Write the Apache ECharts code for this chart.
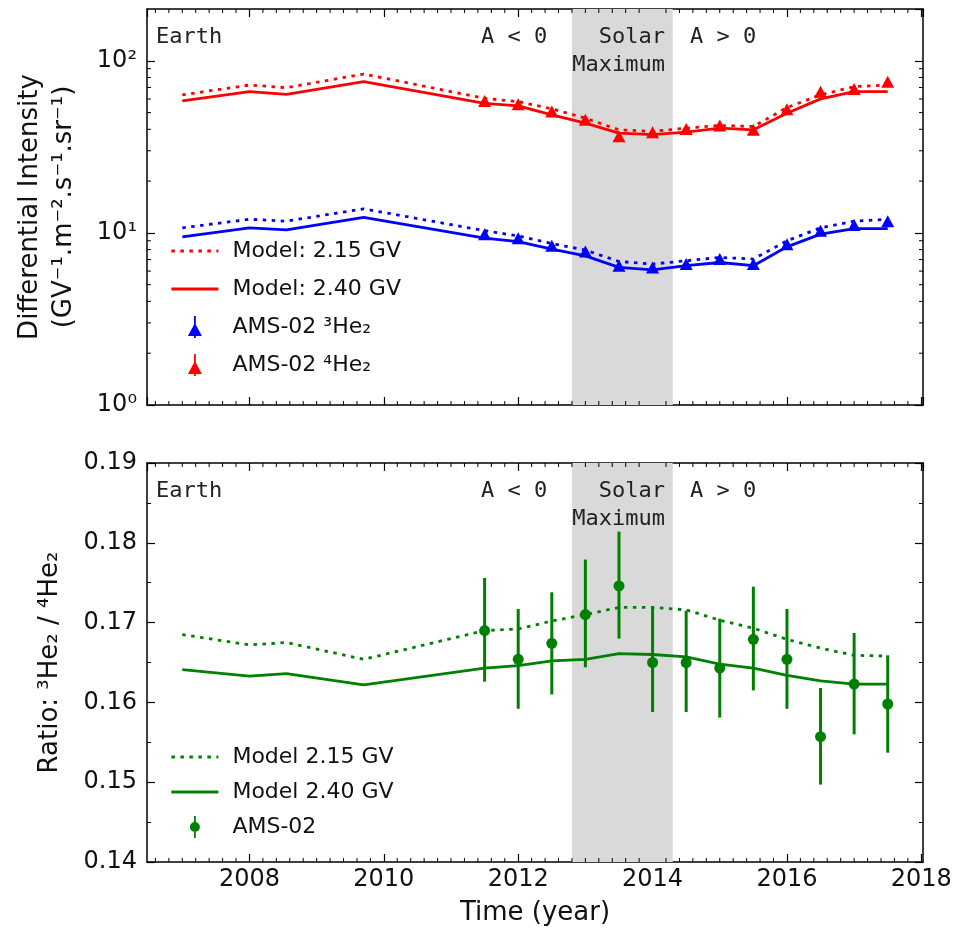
<!DOCTYPE html>
<html>
<head>
<meta charset="utf-8">
<script src="https://cdn.jsdelivr.net/npm/echarts@6/dist/echarts.min.js"></script>
<style>
html, body { margin: 0; padding: 0; background: #fff; }
#chart { width: 957px; height: 934px; }
</style>
</head>
<body>
<div id="chart"></div>
<script>
// epochs of the model curves and of the AMS-02 points
var modelYears = [2007, 2008, 2008.55, 2009.7, 2011.5, 2012, 2012.5, 2013, 2013.5, 2014, 2014.5, 2015, 2015.5, 2016, 2016.5, 2017, 2017.5];
var dataYears = [2011.5, 2012, 2012.5, 2013, 2013.5, 2014, 2014.5, 2015, 2015.5, 2016, 2016.5, 2017, 2017.5];

// 4He intensity
var he4Model215 = [63.4, 72.3, 69.8, 83.8, 60.5, 57.9, 52.6, 46.4, 39.7, 38.9, 40.6, 42.1, 41.5, 53.5, 63.4, 70.8, 72.3];
var he4Model240 = [58.5, 66.2, 63.9, 75.6, 56.6, 54.7, 48.5, 43.4, 38.0, 37.2, 38.5, 40.6, 39.7, 49.6, 60.1, 66.2, 66.2];
var he4Ams = [58.5, 55.9, 50.7, 45.4, 36.4, 38.5, 40.1, 42.1, 39.7, 52.3, 66.2, 68.6, 75.6];

// 3He intensity
var he3Model215 = [10.7, 12.0, 11.7, 13.8, 10.3, 9.6, 8.67, 7.94, 6.82, 6.59, 6.89, 7.2, 7.05, 8.99, 10.7, 11.7, 12.0];
var he3Model240 = [9.48, 10.7, 10.4, 12.3, 9.32, 8.9, 8.05, 7.36, 6.3, 6.09, 6.45, 6.73, 6.45, 8.3, 9.83, 10.6, 10.6];
var he3Ams = [9.83, 9.32, 8.41, 7.8, 6.45, 6.3, 6.59, 7.05, 6.59, 8.6, 10.3, 11.1, 11.7];

// 3He / 4He ratio
var ratioModel215 = [0.1685, 0.1672, 0.1675, 0.1654, 0.1690, 0.1692, 0.1702, 0.1710, 0.1719, 0.1719, 0.1716, 0.1703, 0.1693, 0.1679, 0.1668, 0.1659, 0.1658];
var ratioModel240 = [0.1641, 0.1633, 0.1636, 0.1622, 0.1643, 0.1646, 0.1652, 0.1654, 0.1661, 0.1660, 0.1657, 0.1648, 0.1643, 0.1634, 0.1627, 0.1623, 0.1623];
var ratioAms = [0.1690, 0.1654, 0.1674, 0.1710, 0.1746, 0.1650, 0.1650, 0.1643, 0.1679, 0.1654, 0.1557, 0.1623, 0.1598];
var ratioAmsLow = [0.1626, 0.1592, 0.1610, 0.1644, 0.1680, 0.1588, 0.1588, 0.1581, 0.1615, 0.1592, 0.1497, 0.1560, 0.1537];
var ratioAmsHigh = [0.1756, 0.1717, 0.1738, 0.1779, 0.1814, 0.1720, 0.1715, 0.1705, 0.1745, 0.1717, 0.1618, 0.1687, 0.1659];

var solarMax = [2012.8, 2014.3];
var logMinorTicks = [2, 3, 4, 5, 6, 7, 8, 9, 20, 30, 40, 50, 60, 70, 80, 90];

var X_MIN = 2006.475, X_MAX = 2018.025;
var RED = '#ff0000', BLUE = '#0000ff', GREEN = '#008000';
var SANS = 'DejaVu Sans', MONO = 'DejaVu Sans Mono';
var DOT = [3.5, 5.5];

// x minor ticks every 0.2 yr (skip the major ones)
var xMinorTicks = [];
for (var i = 0; ; i++) {
	var v = Math.round((2006.6 + 0.2 * i) * 10) / 10;
	if (v > 2018.0) break;
	if (Math.abs(v / 2 - Math.round(v / 2)) > 1e-6) xMinorTicks.push(v);
}

function zip(xs, ys) {
	return xs.map(function (x, i) { return [x, ys[i]]; });
}

function xAxisCfg(gridIndex, pos, labels) {
	return {
		type: 'value', gridIndex: gridIndex, position: pos,
		min: X_MIN, max: X_MAX,
		axisLine: { show: true, onZero: false, lineStyle: { color: '#000', width: 1.5 } },
		axisTick: { show: true, inside: true, length: 8, lineStyle: { color: '#000', width: 1.2 } },
		axisLabel: {
			show: labels, margin: 6, showMinLabel: false, showMaxLabel: false,
			fontFamily: SANS, fontSize: 24, color: '#111',
			formatter: function (v) { return String(v); }
		},
		splitLine: { show: false }
	};
}

function yAxisCommon(cfg, labels) {
	cfg.axisLine = { show: true, onZero: false, lineStyle: { color: '#000', width: 1.5 } };
	cfg.axisTick = { show: true, inside: true, length: 8, lineStyle: { color: '#000', width: 1.2 } };
	cfg.splitLine = { show: false };
	cfg.axisLabel.show = labels;
	cfg.axisLabel.margin = 10;
	cfg.axisLabel.fontFamily = SANS;
	cfg.axisLabel.fontSize = 24;
	cfg.axisLabel.color = '#111';
	return cfg;
}

var supDigits = ['⁰', '¹', '²', '³'];
function logLabel(v) {
	return '10' + supDigits[Math.round(Math.log10(v))];
}

// minor ticks drawn through the axes' own scales
function xMinorSeries(axisIdx, yLo, yHi) {
	return {
		type: 'custom', silent: true, z: 10,
		xAxisIndex: axisIdx, yAxisIndex: axisIdx,
		data: xMinorTicks.map(function (x) { return [x, yLo]; }),
		renderItem: function (params, api) {
			var b = api.coord([api.value(0), yLo]);
			var t = api.coord([api.value(0), yHi]);
			return {
				type: 'group', children: [
					{ type: 'line', shape: { x1: b[0], y1: b[1], x2: b[0], y2: b[1] - 4 }, style: { stroke: '#000', lineWidth: 1 } },
					{ type: 'line', shape: { x1: t[0], y1: t[1], x2: t[0], y2: t[1] + 4 }, style: { stroke: '#000', lineWidth: 1 } }
				]
			};
		}
	};
}

function yLogMinorSeries(axisIdx) {
	return {
		type: 'custom', silent: true, z: 10,
		xAxisIndex: axisIdx, yAxisIndex: axisIdx,
		data: logMinorTicks.map(function (y) { return [X_MIN, y]; }),
		renderItem: function (params, api) {
			var l = api.coord([X_MIN, api.value(1)]);
			var r = api.coord([X_MAX, api.value(1)]);
			return {
				type: 'group', children: [
					{ type: 'line', shape: { x1: l[0], y1: l[1], x2: l[0] + 4, y2: l[1] }, style: { stroke: '#000', lineWidth: 1 } },
					{ type: 'line', shape: { x1: r[0], y1: r[1], x2: r[0] - 4, y2: r[1] }, style: { stroke: '#000', lineWidth: 1 } }
				]
			};
		}
	};
}

function shade(axisIdx, yLo, yHi) {
	return {
		type: 'line', xAxisIndex: axisIdx, yAxisIndex: axisIdx, z: 1, silent: true,
		data: [], symbol: 'none',
		markArea: {
			silent: true,
			itemStyle: { color: '#d9d9d9' },
			data: [[{ xAxis: solarMax[0], yAxis: yLo }, { xAxis: solarMax[1], yAxis: yHi }]]
		}
	};
}

function modelLine(name, axisIdx, ys, color, dotted) {
	return {
		name: name, type: 'line', xAxisIndex: axisIdx, yAxisIndex: axisIdx, z: 3,
		data: zip(modelYears, ys), symbol: 'none', showSymbol: false,
		lineStyle: { color: color, width: 2.8, type: dotted ? DOT : 'solid', cap: 'butt' },
		itemStyle: { color: color }
	};
}

function panelTexts(dy) {
	var font = '22px "' + MONO + '"';
	var t = function (txt, x, y, align) {
		return { type: 'text', x: x, y: y + dy, z: 50, style: { text: txt, font: font, fill: '#222', align: align || 'left', verticalAlign: 'middle' } };
	};
	return [
		t('Earth', 156, 37),
		t('A < 0', 481, 37),
		t('Solar', 665, 37, 'right'),
		t('Maximum', 665, 65, 'right'),
		t('A > 0', 690, 37)
	];
}

var triIcon = 'path://M7,7 L14,20 L0,20 Z M6.1,0 L7.9,0 L7.9,22 L6.1,22 Z';
var dotIcon = 'path://M5.1,0 L6.9,0 L6.9,22 L5.1,22 Z M11,11 A5,5 0 1,1 1,11 A5,5 0 1,1 11,11 Z';
var noMarker = { opacity: 0 };

var legendBase = {
	orient: 'vertical', left: 165, itemWidth: 47, itemHeight: 22,
	selectedMode: false,
	lineStyle: { width: 2.8 },
	textStyle: { fontFamily: SANS, fontSize: 22, color: '#111', lineHeight: 24, padding: [0, 0, 0, 9] }
};

var chart = echarts.init(document.getElementById('chart'));

var option = {
	animation: false,
	backgroundColor: '#fff',
	grid: [
		{ left: 147, top: 9, width: 776, height: 396 },
		{ left: 147, top: 463, width: 776, height: 399 }
	],
	legend: [
		Object.assign({}, legendBase, {
			top: 234, itemGap: 14,
			data: [
				{ name: 'Model: 2.15 GV', itemStyle: noMarker },
				{ name: 'Model: 2.40 GV', itemStyle: noMarker },
				{ name: 'AMS-02 ³He₂', icon: triIcon },
				{ name: 'AMS-02 ⁴He₂', icon: triIcon }
			]
		}),
		Object.assign({}, legendBase, {
			top: 740, itemGap: 11,
			data: [
				{ name: 'Model 2.15 GV', itemStyle: noMarker },
				{ name: 'Model 2.40 GV', itemStyle: noMarker },
				{ name: 'AMS-02', icon: dotIcon, itemStyle: { color: GREEN } }
			]
		})
	],
	xAxis: [
		xAxisCfg(0, 'bottom', false),
		Object.assign(xAxisCfg(1, 'bottom', true), {
			name: 'Time (year)', nameLocation: 'middle', nameGap: 38,
			nameTextStyle: { fontFamily: SANS, fontSize: 26, color: '#111' }
		}),
		xAxisCfg(0, 'top', false),
		xAxisCfg(1, 'top', false)
	],
	yAxis: [
		yAxisCommon({
			type: 'log', logBase: 10, gridIndex: 0, position: 'left', min: 1, max: 200,
			name: 'Differential Intensity\n(GV⁻¹.m⁻².s⁻¹.sr⁻¹)',
			nameLocation: 'middle', nameGap: 66,
			nameTextStyle: { fontFamily: SANS, fontSize: 26, lineHeight: 34, color: '#111' },
			axisLabel: { formatter: logLabel, showMaxLabel: false }
		}, true),
		yAxisCommon({
			type: 'value', gridIndex: 1, position: 'left', min: 0.14, max: 0.19, interval: 0.01,
			minorTick: { show: true, splitNumber: 2, length: 4, lineStyle: { color: '#000', width: 1 } },
			name: 'Ratio: ³He₂ / ⁴He₂',
			nameLocation: 'middle', nameGap: 84,
			nameTextStyle: { fontFamily: SANS, fontSize: 26, color: '#111' },
			axisLabel: { formatter: function (v) { return v.toFixed(2); } }
		}, true),
		yAxisCommon({
			type: 'log', logBase: 10, gridIndex: 0, position: 'right', min: 1, max: 200,
			axisLabel: {}
		}, false),
		yAxisCommon({
			type: 'value', gridIndex: 1, position: 'right', min: 0.14, max: 0.19, interval: 0.01,
			minorTick: { show: true, splitNumber: 2, length: 4, lineStyle: { color: '#000', width: 1 } },
			axisLabel: {}
		}, false)
	],
	graphic: panelTexts(0).concat(panelTexts(454)),
	series: [
		shade(0, 1, 200),
		shade(1, 0.14, 0.19),

		// top panel: intensities
		modelLine('Model: 2.15 GV', 0, he4Model215, RED, true),
		modelLine('Model: 2.40 GV', 0, he4Model240, RED, false),
		modelLine('Model: 2.15 GV', 0, he3Model215, BLUE, true),
		modelLine('Model: 2.40 GV', 0, he3Model240, BLUE, false),
		{
			name: 'AMS-02 ³He₂', type: 'scatter', xAxisIndex: 0, yAxisIndex: 0, z: 4,
			data: zip(dataYears, he3Ams), symbol: 'triangle', symbolSize: [13, 12],
			itemStyle: { color: BLUE, opacity: 1 }
		},
		{
			name: 'AMS-02 ⁴He₂', type: 'scatter', xAxisIndex: 0, yAxisIndex: 0, z: 4,
			data: zip(dataYears, he4Ams), symbol: 'triangle', symbolSize: [13, 12],
			itemStyle: { color: RED, opacity: 1 }
		},

		// bottom panel: ratio
		modelLine('Model 2.15 GV', 1, ratioModel215, GREEN, true),
		modelLine('Model 2.40 GV', 1, ratioModel240, GREEN, false),
		{
			name: 'AMS-02', type: 'custom', xAxisIndex: 1, yAxisIndex: 1, z: 4,
			data: dataYears.map(function (x, i) { return [x, ratioAmsLow[i], ratioAmsHigh[i]]; }),
			encode: { x: 0, y: [1, 2] },
			itemStyle: { color: GREEN },
			renderItem: function (params, api) {
				var lo = api.coord([api.value(0), api.value(1)]);
				var hi = api.coord([api.value(0), api.value(2)]);
				return { type: 'line', shape: { x1: lo[0], y1: lo[1], x2: hi[0], y2: hi[1] }, style: { stroke: GREEN, lineWidth: 3 } };
			}
		},
		{
			name: 'AMS-02', type: 'scatter', xAxisIndex: 1, yAxisIndex: 1, z: 5,
			data: zip(dataYears, ratioAms), symbol: 'circle', symbolSize: 11,
			itemStyle: { color: GREEN, opacity: 1 }
		},

		xMinorSeries(0, 1, 200),
		xMinorSeries(1, 0.14, 0.19),
		yLogMinorSeries(0)
	]
};

chart.setOption(option);
</script>
</body>
</html>
